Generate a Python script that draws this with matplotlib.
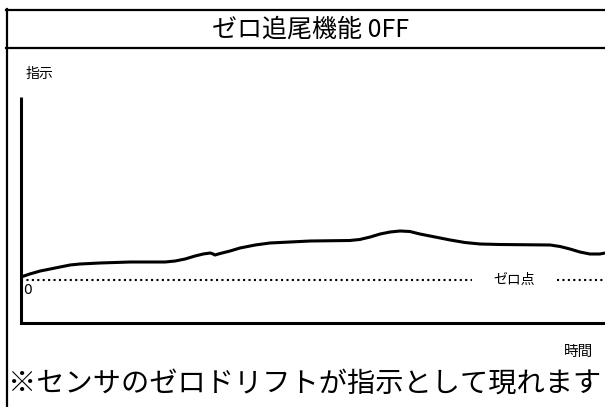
#!/usr/bin/env python3
# -*- coding: utf-8 -*-

import numpy as np
import matplotlib
matplotlib.use('Agg')
import matplotlib.pyplot as plt

plt.rcParams['font.family'] = ['Noto Sans CJK JP', 'DejaVu Sans']

#------------------------------------------------------
# data: sensor reading over time (zero tracking OFF)
#------------------------------------------------------
title = 'ゼロ追尾機能 0FF'
ylabel = '指示'
xlabel = '時間'
zero_label = 'ゼロ点'
note = '※センサのゼロドリフトが指示として現れます'

t = [0.0, 1.5, 3.3, 5.0, 6.7, 8.4, 10.1, 13.5, 18.7, 24.7, 26.4, 28.1, 29.8,
     31.2, 32.4, 32.9, 33.2, 34.1, 35.8, 37.5, 40.1, 42.6, 46.1, 49.5, 56.3,
     58.0, 59.8, 61.5, 63.2, 64.9, 66.6, 68.3, 70.9, 73.5, 76.0, 78.6, 82.0,
     90.6, 92.3, 94.0, 95.7, 97.4, 99.1, 100.0]
reading = [0.3, 0.6, 0.9, 1.1, 1.3, 1.5, 1.6, 1.7, 1.8, 1.8, 1.9, 2.1, 2.4,
           2.6, 2.7, 2.6, 2.5, 2.65, 2.9, 3.2, 3.5, 3.7, 3.8, 3.9, 3.95,
           4.05, 4.3, 4.6, 4.8, 4.9, 4.85, 4.6, 4.3, 4.0, 3.75, 3.6, 3.55,
           3.5, 3.35, 3.1, 2.8, 2.6, 2.6, 2.7]
zero_level = 0.0
# dotted zero line is interrupted where the label sits
zero_gap = (77.2, 91.8)

#------------------------------------------------------
# figure
#------------------------------------------------------
W, H = 605, 407
fig = plt.figure(figsize=(W/100, H/100), dpi=100)

# background / frame in pixel coordinates
bg = fig.add_axes([0, 0, 1, 1])
bg.set_xlim(0, W)
bg.set_ylim(H, 0)
bg.axis('off')
bg.plot([6, W], [10, 10], color='black', lw=1.6)
bg.plot([6, W], [48, 48], color='black', lw=1.6)
bg.plot([7, 7], [9, H], color='black', lw=1.6)
bg.text(310, 30, title, ha='center', va='center', fontsize=18)
bg.text(26, 74, ylabel, ha='left', va='center', fontsize=10)
bg.text(593, 352, xlabel, ha='right', va='center', fontsize=10.5)
bg.text(8, 384, note, ha='left', va='center', fontsize=20.3)

# chart axes
x0, x1 = 21, 605
y0, y1 = 97, 323
ax = fig.add_axes([x0/W, 1-y1/H, (x1-x0)/W, (y1-y0)/H])
ax.patch.set_alpha(0)
ax.set_xlim(0, 100)
ax.set_ylim(-4.3, 18.3)
for s in ['top', 'right']:
    ax.spines[s].set_visible(False)
ax.spines['left'].set_linewidth(2.2)
ax.spines['bottom'].set_linewidth(2.2)
ax.spines['left'].set_capstyle('butt')
ax.set_xticks([])
ax.set_yticks([])

ax.plot(t, reading, color='black', lw=2.2, solid_joinstyle='round',
        solid_capstyle='butt')
ax.plot([0, zero_gap[0]], [zero_level, zero_level], color='black', lw=1.5,
        linestyle=(0, (1, 1.6)))
ax.plot([zero_gap[1], 100], [zero_level, zero_level], color='black', lw=1.5,
        linestyle=(0, (1, 1.6)))
ax.text(sum(zero_gap)/2, zero_level, zero_label, ha='center', va='center',
        fontsize=10)
ax.text(0.4, zero_level-0.35, '0', ha='left', va='top', fontsize=10,
        family='DejaVu Sans')

fig.savefig('out.png', dpi=100)
